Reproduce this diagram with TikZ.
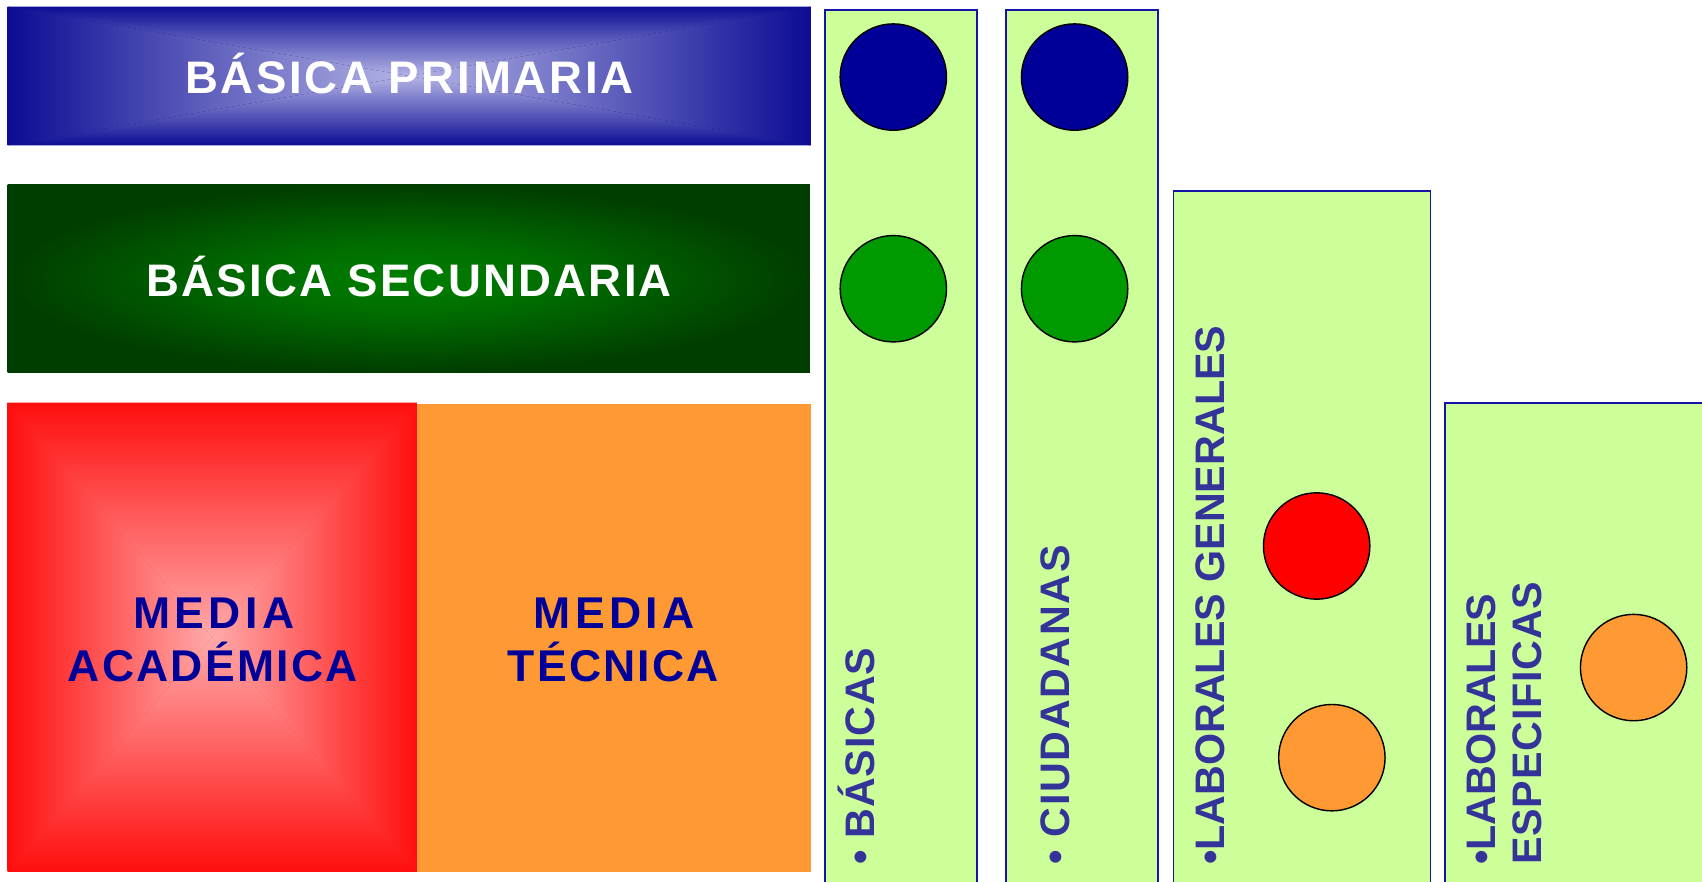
\documentclass[tikz,border=0pt]{standalone}
\usepackage{fontspec}
\setmainfont{Liberation Sans}
\newfontfamily\spacedA[LetterSpace=6]{Liberation Sans}
\newfontfamily\spacedAs[LetterSpace=5]{Liberation Sans}
\newfontfamily\spacedB[LetterSpace=5]{Liberation Sans}
\newfontfamily\spacedM[LetterSpace=10]{Liberation Sans}
\newfontfamily\spacedC[LetterSpace=4]{Liberation Sans}
\newfontfamily\spacedD[LetterSpace=2]{Liberation Sans}
\definecolor{navyc}{RGB}{0,0,153}
\definecolor{navytext}{RGB}{0,0,153}
\definecolor{coltext}{RGB}{51,51,153}
\definecolor{colfill}{RGB}{204,255,153}
\definecolor{colborder}{RGB}{20,20,165}
\definecolor{greenc}{RGB}{0,153,0}
\definecolor{redc}{RGB}{255,0,0}
\definecolor{orangec}{RGB}{255,153,51}
\definecolor{blueedge}{RGB}{12,12,148}
\definecolor{bluecenter}{RGB}{180,180,230}
\definecolor{rededge}{RGB}{255,14,14}
\definecolor{redcenter}{RGB}{255,170,170}
\pgfdeclareradialshading{greenglow}{\pgfpoint{0bp}{0bp}}{rgb(0bp)=(0,0.50,0); rgb(10bp)=(0,0.42,0); rgb(25bp)=(0,0.24,0); rgb(50bp)=(0,0.24,0)}
% rectangular "from centre" gradient: x1,y1,x2,y2,edge colour,centre colour
\newcommand{\rectgrad}[6]{%
  \fill[#5] (#1,#2) rectangle (#3,#4);
  \begin{scope}
    \clip (#1,#2) -- (#3,#2) -- ({(#1+#3)/2},{(#2+#4)/2}) -- cycle;
    \shade[top color=#5, bottom color=#6] (#1,#2) rectangle (#3,{(#2+#4)/2});
  \end{scope}
  \begin{scope}
    \clip (#1,#4) -- (#3,#4) -- ({(#1+#3)/2},{(#2+#4)/2}) -- cycle;
    \shade[top color=#6, bottom color=#5] (#1,{(#2+#4)/2}) rectangle (#3,#4);
  \end{scope}
  \begin{scope}
    \clip (#1,#2) -- (#1,#4) -- ({(#1+#3)/2},{(#2+#4)/2}) -- cycle;
    \shade[left color=#5, right color=#6] (#1,#2) rectangle ({(#1+#3)/2},#4);
  \end{scope}
  \begin{scope}
    \clip (#3,#2) -- (#3,#4) -- ({(#1+#3)/2},{(#2+#4)/2}) -- cycle;
    \shade[left color=#6, right color=#5] ({(#1+#3)/2},#2) rectangle (#3,#4);
  \end{scope}
}
\begin{document}
\begin{tikzpicture}[x=1pt,y=-1pt,
  boxtext/.style={inner sep=0pt, anchor=base, font=\spacedA\bfseries\fontsize{42}{50}\selectfont},
  mediatext/.style={inner sep=0pt, anchor=base, text=navytext, font=\spacedB\bfseries\fontsize{41}{49}\selectfont},
  coltextstyle/.style={inner sep=0pt, rotate=90, anchor=base west, text=coltext, font=\bfseries\fontsize{38}{45}\selectfont},
  colbox/.style={fill=colfill, draw=colborder, line width=1.5pt},
  dot/.style={circle, draw=black, line width=1.3pt, minimum size=98pt, inner sep=0pt}]
\clip (0,0) rectangle (1568,812);
\fill[white] (0,0) rectangle (1568,812);

% left blocks
\rectgrad{7}{6}{747}{134}{blueedge}{bluecenter}
\shade[shading=greenglow] (7,170) rectangle (746,343);
\rectgrad{7}{371}{384}{803}{rededge}{redcenter}
\fill[orangec] (384,372) rectangle (747,803);

\node[boxtext, text=white] (prim) at (377,86) {BÁSICA PRIMARIA};
\node[boxtext, text=white, font=\spacedAs\bfseries\fontsize{42}{50}\selectfont] (secu) at (377,273) {BÁSICA SECUNDARIA};
\node[mediatext, font=\spacedM\bfseries\fontsize{41}{49}\selectfont] (acad1) at (197,579) {MEDIA};
\node[mediatext] (acad2) at (196,628) {ACADÉMICA};
\node[mediatext, font=\spacedM\bfseries\fontsize{41}{49}\selectfont] (tec1) at (566,579) {MEDIA};
\node[mediatext] (tec2) at (565,628) {TÉCNICA};

% columns
\draw[colbox] (760,9) rectangle (900,830);
\draw[colbox] (927,9) rectangle (1067,830);
\draw[colbox] (1081,176) rectangle (1318,830);
\draw[colbox] (1331,371) rectangle (1590,830);

\node[dot, fill=navyc] (b1) at (823,71) {};
\node[dot, fill=greenc] (b2) at (823,266) {};
\node[dot, fill=navyc] (c1) at (990,71) {};
\node[dot, fill=greenc] (c2) at (990,266) {};
\node[dot, fill=redc] (g1) at (1213,503) {};
\node[dot, fill=orangec] (g2) at (1227,698) {};
\node[dot, fill=orangec] (e1) at (1505,615) {};

\node[coltextstyle, font=\spacedD\bfseries\fontsize{38}{45}\selectfont] (basicas) at (806,797) {• BÁSICAS};
\node[coltextstyle, font=\spacedC\bfseries\fontsize{38}{45}\selectfont] (ciud) at (985,797) {• CIUDADANAS};
\node[coltextstyle] (labgen) at (1128,797) {•LABORALES GENERALES};
\node[coltextstyle] (labesp1) at (1378,797) {•LABORALES};
\node[coltextstyle, font=\spacedD\bfseries\fontsize{38}{45}\selectfont] (labesp2) at (1420,797) {ESPECIFICAS};
\end{tikzpicture}
\end{document}
